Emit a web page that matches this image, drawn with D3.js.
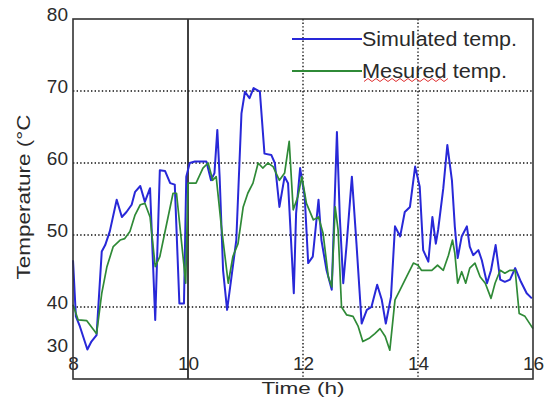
<!DOCTYPE html>
<html><head><meta charset="utf-8">
<script src="https://cdn.jsdelivr.net/npm/d3@7"></script>
<style>
html,body{margin:0;padding:0;background:#fff;}
svg{display:block;font-family:"Liberation Sans",Arial,sans-serif;}
</style></head>
<body>
<svg id="c" width="545" height="401"></svg>
<script>
// ---- data ----
const simTime = [8.00,8.05,8.12,8.25,8.32,8.41,8.50,8.56,8.64,8.76,8.85,8.93,9.02,9.08,9.17,9.25,9.34,9.43,9.51,9.60,9.69,9.77,9.85,9.93,9.97,10.03,10.12,10.23,10.32,10.40,10.46,10.51,10.55,10.61,10.68,10.75,10.84,10.93,10.99,11.07,11.14,11.25,11.33,11.45,11.51,11.59,11.68,11.74,11.84,11.88,11.95,12.03,12.09,12.17,12.27,12.32,12.41,12.50,12.59,12.64,12.70,12.76,12.85,12.93,13.02,13.11,13.19,13.29,13.37,13.44,13.53,13.60,13.69,13.77,13.86,13.95,14.03,14.09,14.18,14.25,14.31,14.35,14.44,14.51,14.59,14.64,14.69,14.76,14.85,14.90,14.96,15.05,15.11,15.20,15.27,15.35,15.43,15.51,15.60,15.69,15.79,15.89,15.98];
const simTemp = [46.5,38.7,37.3,34.1,35.2,36.1,47.7,48.6,50.5,54.9,52.5,53.2,54.2,56.0,56.8,54.6,56.5,38.2,59.0,58.9,57.2,57.0,40.5,40.5,58.1,60.0,60.2,60.2,60.2,57.6,58.6,64.6,58.1,45.1,39.6,43.8,49.3,66.9,69.9,69.0,70.4,69.9,61.3,61.1,60.0,53.9,58.1,57.2,41.9,53.0,59.3,55.3,46.1,47.0,54.9,49.3,45.1,42.4,64.3,52.5,43.3,48.8,58.1,48.8,37.7,39.6,40.0,43.1,41.0,37.7,41.4,51.2,49.8,53.2,53.9,59.5,56.7,47.9,46.3,52.5,48.8,50.7,56.5,62.5,57.6,51.2,46.8,49.8,51.2,48.4,47.2,47.9,46.5,43.3,45.1,48.6,43.8,43.5,43.8,45.4,43.5,41.9,41.2];
const mesTime = [8.00,8.09,8.24,8.41,8.50,8.59,8.70,8.82,8.90,8.99,9.08,9.17,9.25,9.34,9.43,9.51,9.63,9.74,9.80,9.92,9.96,10.00,10.14,10.26,10.35,10.43,10.49,10.58,10.70,10.78,10.87,10.96,11.04,11.13,11.22,11.30,11.39,11.48,11.59,11.68,11.76,11.83,11.91,11.98,12.06,12.18,12.27,12.35,12.44,12.50,12.56,12.61,12.67,12.76,12.87,12.96,13.04,13.16,13.25,13.34,13.43,13.51,13.60,13.69,13.80,13.92,14.00,14.06,14.24,14.34,14.44,14.53,14.60,14.64,14.69,14.76,14.83,14.90,14.99,15.08,15.17,15.27,15.34,15.43,15.51,15.60,15.69,15.76,15.86,16.00];
const mesTemp = [40.3,38.2,38.1,36.3,41.9,45.6,48.4,49.3,49.5,50.5,52.8,54.2,54.4,52.5,45.6,47.0,51.6,55.8,55.8,46.5,43.3,57.2,57.2,59.3,60.0,57.6,58.1,51.2,43.3,47.0,48.8,53.9,55.8,57.2,60.0,59.3,60.0,59.5,57.6,58.6,63.0,53.5,55.3,58.1,54.4,52.1,52.5,50.2,44.2,42.8,53.9,50.7,40.0,38.9,38.7,37.3,35.2,35.7,36.3,37.0,35.9,34.0,41.0,42.4,44.2,46.1,45.8,45.1,45.1,45.8,45.1,47.2,49.3,47.5,43.3,44.9,43.3,45.4,46.1,44.2,43.3,41.2,43.3,45.1,44.7,45.1,45.1,39.1,38.7,37.0];
const seriesNames = ["Simulated temp.", "Mesured temp."];
const xTicks = [8,10,12,14,16];
const yTicks = [30,40,50,60,70,80];
const yGrid = [40,50,60,70];
const xGridDotted = [12,14];
const xGridSolid = [10];
const xTitle = "Time (h)";
const yTitle = "Temperature (°C";

// ---- drawing ----
const svg = d3.select("#c");
const x = d3.scaleLinear().domain([8,16]).range([73,533]);
const y = d3.scaleLinear().domain([30,80]).range([379,19]);
const blue = "#2828d8", green = "#2f8a37", ink = "#2a2a2a";
const font = '"Liberation Sans",Arial,sans-serif';

// gridlines
svg.append("g").selectAll("line").data(yGrid).join("line")
  .attr("x1", x(8)).attr("x2", x(16))
  .attr("y1", d => y(d)).attr("y2", d => y(d))
  .attr("stroke", "#111").attr("stroke-width", 1.4).attr("stroke-dasharray", "1.4,2.2");
svg.append("g").selectAll("line").data(xGridDotted).join("line")
  .attr("x1", d => x(d)).attr("x2", d => x(d))
  .attr("y1", y(80)).attr("y2", y(30))
  .attr("stroke", "#111").attr("stroke-width", 1.4).attr("stroke-dasharray", "1.4,2.2");

// x tick labels (inside plot, above bottom line)
const xAxis = svg.append("g").attr("transform", `translate(0,${y(30)})`)
  .call(d3.axisBottom(x).tickValues(xTicks).tickSize(0).tickFormat(d3.format("d")));
xAxis.select(".domain").remove();
xAxis.selectAll("text").attr("y", -9).attr("dy", 0)
  .attr("font-size", 19).attr("font-family", font).attr("fill", ink);

// y tick labels
const yAxis = svg.append("g").attr("transform", `translate(${x(8)},0)`)
  .call(d3.axisLeft(y).tickValues(yTicks).tickSize(0).tickPadding(5).tickFormat(d3.format("d")));
yAxis.select(".domain").remove();
yAxis.selectAll("text")
  .attr("dy", "0.32em")
  .attr("y", d => d === 30 ? -34 : -5)
  .attr("font-size", 19).attr("font-family", font).attr("fill", ink);

// solid vertical line at 10 h
svg.append("g").selectAll("line").data(xGridSolid).join("line")
  .attr("x1", d => x(d)).attr("x2", d => x(d))
  .attr("y1", y(80)).attr("y2", y(30))
  .attr("stroke", "#111").attr("stroke-width", 1.6);

// series
const line = d3.line().x(d => x(d[0])).y(d => y(d[1]));
const simData = d3.zip(simTime, simTemp);
const mesData = d3.zip(mesTime, mesTemp);
svg.append("path").datum(simData).attr("d", line)
  .attr("fill", "none").attr("stroke", blue).attr("stroke-width", 2).attr("stroke-linejoin", "round");
svg.append("path").datum(mesData).attr("d", line)
  .attr("fill", "none").attr("stroke", green).attr("stroke-width", 1.7).attr("stroke-linejoin", "round");

// frame
svg.append("rect").attr("x", x(8)).attr("y", y(80))
  .attr("width", x(16) - x(8)).attr("height", y(30) - y(80))
  .attr("fill", "none").attr("stroke", "#333").attr("stroke-width", 1.6);

// legend
const legend = svg.append("g");
const legY = [39, 71];
const legColors = [blue, green];
const legLens = [155, 145];
seriesNames.forEach((name, i) => {
  legend.append("line").attr("x1", 292).attr("x2", 362)
    .attr("y1", legY[i]).attr("y2", legY[i])
    .attr("stroke", legColors[i]).attr("stroke-width", 2);
  legend.append("text").attr("x", 362).attr("y", legY[i]).attr("dy", "0.35em")
    .attr("font-size", 20).attr("font-family", font).attr("fill", ink)
    .attr("textLength", legLens[i]).attr("lengthAdjust", "spacingAndGlyphs")
    .text(name);
});
// spell-check squiggle under "Mesured"
const sq = d3.range(0, 22).map(k => [364 + k * 4, 80 + (k % 2 ? -1.5 : 1.5)]);
legend.append("path").attr("d", d3.line()(sq))
  .attr("fill", "none").attr("stroke", "#e03030").attr("stroke-width", 1);

// axis titles
svg.append("text").attr("x", 303).attr("y", 394)
  .attr("text-anchor", "middle").attr("font-size", 17).attr("font-family", font).attr("fill", ink)
  .attr("textLength", 83).attr("lengthAdjust", "spacingAndGlyphs").text(xTitle);
svg.append("text").attr("transform", "translate(30,197) rotate(-90)")
  .attr("text-anchor", "middle").attr("font-size", 18).attr("font-family", font).attr("fill", ink)
  .attr("textLength", 165).attr("lengthAdjust", "spacingAndGlyphs").text(yTitle);
</script>
</body></html>
